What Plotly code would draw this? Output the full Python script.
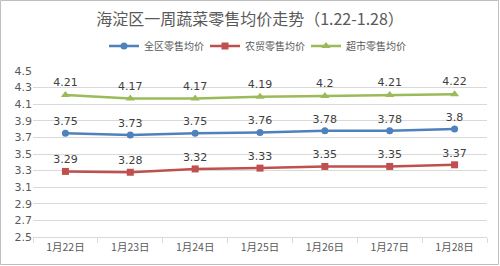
import plotly.graph_objects as go

categories = ["1月22日", "1月23日", "1月24日", "1月25日", "1月26日", "1月27日", "1月28日"]
quanqu = [3.75, 3.73, 3.75, 3.76, 3.78, 3.78, 3.8]
nongmao = [3.29, 3.28, 3.32, 3.33, 3.35, 3.35, 3.37]
chaoshi = [4.21, 4.17, 4.17, 4.19, 4.2, 4.21, 4.22]
ytickvals = [2.5, 2.7, 2.9, 3.1, 3.3, 3.5, 3.7, 3.9, 4.1, 4.3, 4.5]

FONT = "Noto Sans CJK SC"
series = [
    ("全区零售均价", quanqu, "#4F81BD", "circle", 7),
    ("农贸零售均价", nongmao, "#C0504D", "square", 7),
    ("超市零售均价", chaoshi, "#9BBB59", "triangle-up", 8),
]

fig = go.Figure()
for name, vals, color, sym, ms in series:
    fig.add_trace(go.Scatter(
        x=categories, y=vals, name=name, mode="lines+markers+text",
        line=dict(color=color, width=2.5),
        marker=dict(symbol=sym, size=ms, color=color),
        text=[str(v) for v in vals], textposition="top center",
        textfont=dict(size=11, color="#404040", family="DejaVu Sans"),
        cliponaxis=False,
    ))

L, R, T, B = 33, 13, 71, 29
W, H = 500, 266
pw, ph = W - L - R, H - T - B
fig.update_layout(
    width=W, height=H,
    margin=dict(l=L, r=R, t=T, b=B),
    paper_bgcolor="white", plot_bgcolor="white",
    title=dict(text="海淀区一周蔬菜零售均价走势（1.22-1.28）", x=0.5, xanchor="center",
               y=1 - 19 / H, yanchor="middle",
               font=dict(family=FONT, size=16, color="#595959")),
    legend=dict(orientation="h", x=(104 - L) / pw, xanchor="left", y=1 + 25 / ph, yanchor="middle",
                font=dict(family=FONT, size=10, color="#595959"),
                itemwidth=30, entrywidth=56, entrywidthmode="pixels",
                tracegroupgap=0, bgcolor="rgba(0,0,0,0)"),
    xaxis=dict(type="category", showgrid=False, showline=True, linecolor="#D9D9D9",
               ticks="outside", tickson="boundaries", ticklen=5, tickcolor="#D9D9D9",
               tickfont=dict(family=FONT, size=10.5, color="#595959"), range=[-0.5, 6.5]),
    yaxis=dict(range=[2.5, 4.5], tickvals=ytickvals, ticktext=[f"{v:.1f}" for v in ytickvals],
               showgrid=True, gridcolor="#D9D9D9", gridwidth=1, zeroline=False,
               showline=False,
               tickfont=dict(family="DejaVu Sans", size=11, color="#595959")),
    showlegend=True,
)
fig.add_shape(type="rect", xref="paper", yref="paper",
              x0=-(L - 0.5) / pw, x1=1 + (R - 1.5) / pw,
              y0=-(B - 1.5) / ph, y1=1 + (T - 0.5) / ph,
              line=dict(color="#BFBFBF", width=1), fillcolor="rgba(0,0,0,0)", layer="below")
fig.write_html("out.html")
